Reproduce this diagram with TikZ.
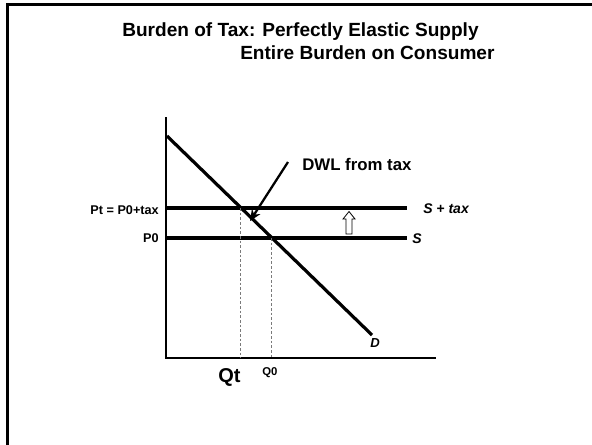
\documentclass[tikz,border=0pt]{standalone}
\usepackage{fontspec}
\setmainfont{Liberation Sans}
\usetikzlibrary{arrows.meta,positioning,calc}
\definecolor{ink}{HTML}{000000}
\definecolor{guidegray}{HTML}{7A7A7A}
\tikzset{
  frameline/.style={line width=1.6pt,ink},
  axisline/.style={line width=2.2pt,ink},
  supply/.style={line width=2.4pt,ink},
  demand/.style={line width=2.4pt,ink},
  guide/.style={dash pattern=on 2pt off 1.5pt,line width=0.5pt,guidegray},
  pointer/.style={-{Stealth[length=3mm,width=2.6mm]},line width=1.7pt,ink},
  titletext/.style={font=\bfseries\fontsize{14.3}{17}\selectfont,text=ink,inner sep=0pt},
  pricetext/.style={font=\bfseries\fontsize{9.5}{11}\selectfont,text=ink,inner sep=0pt,anchor=base east},
  curvetext/.style={font=\bfseries\itshape\fontsize{10.5}{12}\selectfont,text=ink,inner sep=0pt,anchor=base west},
  notetext/.style={font=\bfseries\fontsize{12.6}{15}\selectfont,text=ink,inner sep=0pt,anchor=base west}
}
\begin{document}
\begin{tikzpicture}[x=0.75pt,y=-0.75pt]
    \useasboundingbox (0,0) rectangle (592,444);
    % slide frame
    \draw[frameline] (7.5,450) -- (7.5,4.5) -- (600,4.5);
    % title
    \node[titletext,anchor=base west] (title1) at (122,36) {Burden of Tax: Perfectly Elastic Supply};
    \node[titletext,anchor=base west] (title2) at (240,59) {Entire Burden on Consumer};
    % axes
    \coordinate (origin) at (166,358);
    \coordinate (ytop) at (166,117);
    \coordinate (xend) at (436,358);
    \draw[axisline] (ytop) -- (origin) -- (xend);
    % supply lines
    \coordinate (stax0) at (166,208);
    \coordinate (stax1) at (407,208);
    \coordinate (s0) at (166,238);
    \coordinate (s1) at (407,238);
    \draw[supply] (stax0) -- (stax1);
    \draw[supply] (s0) -- (s1);
    % demand
    \coordinate (d0) at (167,136);
    \coordinate (d1) at (372,335);
    \draw[demand] (d0) -- (d1);
    % quantities
    \coordinate (qt) at (240,208);
    \coordinate (qtbase) at (240,358);
    \coordinate (q0) at (271,238);
    \coordinate (q0base) at (271,358);
    \draw[guide] (qt) -- (qtbase);
    \draw[guide] (q0) -- (q0base);
    % labels
    \node[pricetext] (ptlabel) at (159,214) {Pt = P0+tax};
    \node[pricetext] (p0label) at (159,242) {P0};
    \node[curvetext] (staxlabel) at (423,213) {S + tax};
    \node[curvetext] (slabel) at (412,243) {S};
    \node[curvetext,font=\bfseries\itshape\fontsize{9.8}{11}\selectfont] (dlabel) at (370,347) {D};
    \node[font=\bfseries\fontsize{15}{18}\selectfont,inner sep=0pt,anchor=base west] (qtlabel) at (218,382) {Qt};
    \node[font=\bfseries\fontsize{8.5}{10}\selectfont,inner sep=0pt,anchor=base west] (q0label) at (262,375) {Q0};
    \node[notetext] (dwl) at (302,170) {DWL from tax};
    \coordinate (dwltail) at (288,162);
    \coordinate (dwlpoint) at (250,221);
    \draw[pointer] (dwltail) -- (dwlpoint);
    % tax shift arrow
    \draw[line width=0.6pt,ink,fill=white] (346,234) -- (346,219) -- (343,219) -- (349,211.5)
      -- (355,219) -- (352,219) -- (352,234) -- cycle;
  \end{tikzpicture}
\end{document}
